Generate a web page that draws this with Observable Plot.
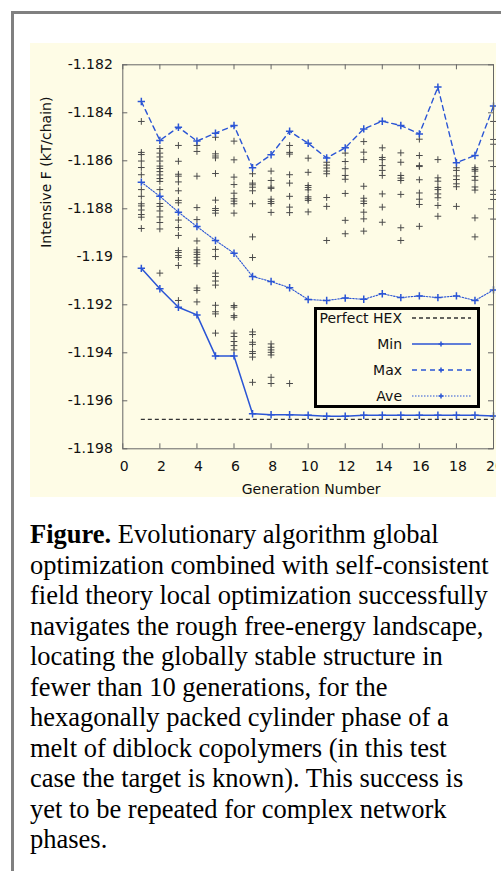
<!DOCTYPE html>
<html><head><meta charset="utf-8">
<script src="https://cdn.jsdelivr.net/npm/d3@7"></script>
<script src="https://cdn.jsdelivr.net/npm/@observablehq/plot@0.6"></script>
<style>
html,body{margin:0;padding:0;background:#fff;}
body{width:501px;height:871px;position:relative;overflow:hidden;}
#border{position:absolute;left:11px;top:11px;right:-10px;bottom:-10px;border-left:3px solid #808080;border-top:3px solid #808080;}
#panel{position:absolute;left:30px;top:43px;width:466px;height:454px;background:#fefce6;}
#caption{position:absolute;left:30px;top:519px;font-family:"Liberation Serif","Times New Roman",serif;font-size:26.5px;line-height:30.5px;color:#000;white-space:nowrap;}
</style>
</head><body>
<div id="border"></div>
<div id="panel"></div>
<div id="caption"></div>
<script>
// ---------- data ----------
const generations = [1,2,3,4,5,6,7,8,9,10,11,12,13,14,15,16,17,18,19,20];
const minF = [-1.19048,-1.19133,-1.19210,-1.19242,-1.19413,-1.19413,-1.19654,-1.19658,-1.19658,-1.19660,-1.19664,-1.19664,-1.19660,-1.19660,-1.19660,-1.19660,-1.19660,-1.19660,-1.19660,-1.19663];
const maxF = [-1.18353,-1.18515,-1.18460,-1.18518,-1.18485,-1.18453,-1.18629,-1.18575,-1.18477,-1.18527,-1.18588,-1.18546,-1.18467,-1.18435,-1.18453,-1.18488,-1.18293,-1.18608,-1.18578,-1.18372];
const aveF = [-1.18689,-1.18748,-1.18814,-1.18874,-1.18932,-1.18985,-1.19082,-1.19103,-1.19129,-1.19178,-1.19182,-1.19172,-1.19177,-1.19154,-1.19170,-1.19163,-1.19170,-1.19163,-1.19182,-1.19138];
const perfectHEX = -1.19677;
// population of each generation (index = generation - 1)
const population = [
[-1.18436,-1.18565,-1.18574,-1.18601,-1.18628,-1.18658,-1.18720,-1.18748,-1.18779,-1.18788,-1.18805,-1.18824,-1.18835,-1.18882],
[-1.18549,-1.18568,-1.18584,-1.18601,-1.18622,-1.18632,-1.18645,-1.18659,-1.18674,-1.18686,-1.18720,-1.18778,-1.18790,-1.18809,-1.18834,-1.18857,-1.18884,-1.19068],
[-1.18536,-1.18602,-1.18656,-1.18664,-1.18688,-1.18725,-1.18765,-1.18775,-1.18847,-1.18878,-1.18911,-1.18974,-1.18982,-1.18995,-1.19003,-1.19036,-1.19182],
[-1.18536,-1.18561,-1.18664,-1.18795,-1.18845,-1.18934,-1.18971,-1.18981,-1.18990,-1.19002,-1.19014,-1.19029,-1.19130,-1.19140,-1.19188],
[-1.18502,-1.18571,-1.18580,-1.18588,-1.18653,-1.18764,-1.18799,-1.18807,-1.18818,-1.18969,-1.18999,-1.19068,-1.19082,-1.19101,-1.19118,-1.19202,-1.19229,-1.19238,-1.19318],
[-1.18518,-1.18596,-1.18668,-1.18699,-1.18735,-1.18758,-1.18768,-1.18779,-1.18818,-1.19203,-1.19210,-1.19245,-1.19252,-1.19318,-1.19332,-1.19353,-1.19370,-1.19388],
[-1.18654,-1.18693,-1.18700,-1.18710,-1.18725,-1.18779,-1.18917,-1.19003,-1.19313,-1.19324,-1.19356,-1.19365,-1.19395,-1.19403,-1.19418,-1.19523],
[-1.18643,-1.18682,-1.18710,-1.18715,-1.18760,-1.18770,-1.18778,-1.18815,-1.19363,-1.19377,-1.19388,-1.19398,-1.19409,-1.19502,-1.19528],
[-1.18536,-1.18565,-1.18572,-1.18658,-1.18693,-1.18748,-1.18793,-1.18816,-1.19528],
[-1.18589,-1.18648,-1.18703,-1.18711,-1.18721,-1.18750,-1.18758,-1.18765,-1.18813],
[-1.18606,-1.18618,-1.18630,-1.18643,-1.18654,-1.18753,-1.18790,-1.18932],
[-1.18568,-1.18603,-1.18633,-1.18661,-1.18677,-1.18736,-1.18848,-1.18904],
[-1.18520,-1.18564,-1.18595,-1.18706,-1.18756,-1.18768,-1.18778,-1.18814,-1.18842,-1.18893],
[-1.18546,-1.18586,-1.18595,-1.18620,-1.18640,-1.18661,-1.18738,-1.18793,-1.18856],
[-1.18567,-1.18606,-1.18661,-1.18672,-1.18682,-1.18740,-1.18879,-1.18932],
[-1.18510,-1.18578,-1.18620,-1.18624,-1.18679,-1.18734,-1.18760,-1.18782,-1.18873],
[-1.18595,-1.18671,-1.18685,-1.18711,-1.18720,-1.18738,-1.18754,-1.18786,-1.18831],
[-1.18629,-1.18640,-1.18663,-1.18678,-1.18696,-1.18708,-1.18790],
[-1.18629,-1.18636,-1.18643,-1.18665,-1.18681,-1.18709,-1.18722,-1.18838,-1.18917],
[-1.18436,-1.18511,-1.18531,-1.18624,-1.18723,-1.18740,-1.18761,-1.18843]
];
const xTicks = [0,2,4,6,8,10,12,14,16,18,20];
const yTicks = [-1.198,-1.196,-1.194,-1.192,-1.19,-1.188,-1.186,-1.184,-1.182];
const xLabel = "Generation Number";
const yLabel = "Intensive F (kT/chain)";
const legendLabels = ["Perfect HEX","Min","Max","Ave"];
const captionTitle = "Figure.";
const captionLines = [
  " Evolutionary algorithm global",
  "optimization combined with self-consistent",
  "field theory local optimization successfully",
  "navigates the rough free-energy landscape,",
  "locating the globally stable structure in",
  "fewer than 10 generations, for the",
  "hexagonally packed cylinder phase of a",
  "melt of diblock copolymers (in this test",
  "case the target is known). This success is",
  "yet to be repeated for complex network",
  "phases."
];

// ---------- chart ----------
const BLUE = "#2b55d5", FRAME = "#666", BG = "#fefce6";
const W = 466, H = 454, mL = 92.3, mT = 21.3, mR = 3, mB = 48.7;
const innerW = W - mL - mR, innerH = H - mT - mB;
const xDomain = [0, 20], yDomain = [-1.198, -1.182];
const tyLen = (yDomain[1] - yDomain[0]) * 5 / innerH;
const txLen = (xDomain[1] - xDomain[0]) * 5 / innerW;

const seriesRows = generations.map((g, i) => ({g, min: minF[i], max: maxF[i], ave: aveF[i]}));
const popRows = population.flatMap((vals, i) => vals.map(v => ({g: generations[i], F: v})));
const fmt = d => String(d);

const chart = Plot.plot({
  width: W, height: H,
  marginLeft: mL, marginTop: mT, marginRight: mR, marginBottom: mB,
  style: {background: "transparent", fontFamily: "DejaVu Sans", fontSize: "14px", color: "#111", overflow: "hidden"},
  x: {domain: xDomain},
  y: {domain: yDomain},
  marks: [
    Plot.ruleY([perfectHEX], {x1: 1, x2: 20, stroke: "#333", strokeWidth: 1.3, strokeDasharray: "4,3"}),
    Plot.dot(popRows, {x: "g", y: "F", symbol: "plus", r: 2.3, stroke: "#4a4a4a", strokeWidth: 1}),
    Plot.line(seriesRows, {x: "g", y: "max", stroke: BLUE, strokeWidth: 1.4, strokeDasharray: "5,4"}),
    Plot.line(seriesRows, {x: "g", y: "ave", stroke: BLUE, strokeWidth: 1.1, strokeDasharray: "1.5,1.5"}),
    Plot.line(seriesRows, {x: "g", y: "min", stroke: BLUE, strokeWidth: 1.5}),
    Plot.dot(seriesRows, {x: "g", y: "max", symbol: "plus", r: 2.5, stroke: BLUE, strokeWidth: 1.5}),
    Plot.dot(seriesRows, {x: "g", y: "ave", symbol: "plus", r: 2.5, stroke: BLUE, strokeWidth: 1.5}),
    Plot.dot(seriesRows, {x: "g", y: "min", symbol: "plus", r: 2.5, stroke: BLUE, strokeWidth: 1.5}),
    Plot.ruleX(xTicks, {x: d => d, y1: yDomain[0], y2: yDomain[0] + tyLen, stroke: FRAME}),
    Plot.ruleX(xTicks, {x: d => d, y1: yDomain[1], y2: yDomain[1] - tyLen, stroke: FRAME}),
    Plot.ruleY(yTicks, {y: d => d, x1: xDomain[0], x2: xDomain[0] + txLen, stroke: FRAME}),
    Plot.ruleY(yTicks, {y: d => d, x1: xDomain[1], x2: xDomain[1] - txLen, stroke: FRAME}),
    Plot.frame({stroke: FRAME}),
    Plot.axisX(xTicks, {anchor: "bottom", tickSize: 0, tickPadding: 12, dx: 1.5, label: null, tickFormat: fmt}),
    Plot.axisY(yTicks, {anchor: "left", tickSize: 0, tickPadding: 10, label: null, tickFormat: fmt}),
    Plot.text([xLabel], {frameAnchor: "bottom", dy: 41, dx: 3, lineAnchor: "middle", fontSize: 14}),
    Plot.text([yLabel], {frameAnchor: "left", rotate: -90, dx: -76, dy: -9, lineAnchor: "middle", fontSize: 14})
  ]
});
document.getElementById("panel").appendChild(chart);

// ---------- legend (overlay box inside the plot) ----------
const lg = d3.select("#panel").append("svg")
  .attr("width", 166).attr("height", 101)
  .style("position", "absolute").style("left", "284px").style("top", "264px")
  .style("font-family", "DejaVu Sans").style("font-size", "14px");
lg.append("rect").attr("x", 1.5).attr("y", 1.5).attr("width", 163).attr("height", 98)
  .attr("fill", BG).attr("stroke", "#000").attr("stroke-width", 3);
const legendStyles = [
  {stroke: "#333", dash: "4,3", w: 1.3, marker: false},
  {stroke: BLUE, dash: null, w: 1.5, marker: true},
  {stroke: BLUE, dash: "5,4", w: 1.4, marker: true},
  {stroke: BLUE, dash: "1.5,1.5", w: 1.1, marker: true}
];
const rowY = [11, 37, 63, 89];
legendLabels.forEach((lab, i) => {
  const s = legendStyles[i], y = rowY[i];
  lg.append("text").attr("x", 88).attr("y", y).attr("dy", "0.35em")
    .attr("text-anchor", "end").attr("fill", "#111").text(lab);
  lg.append("line").attr("x1", 98).attr("x2", 157).attr("y1", y).attr("y2", y)
    .attr("stroke", s.stroke).attr("stroke-width", s.w).attr("stroke-dasharray", s.dash);
  if (s.marker) {
    lg.append("path").attr("d", `M124.5,${y}h5M127,${y-2.5}v5`).attr("stroke", s.stroke).attr("stroke-width", 1.5);
  }
});

// ---------- caption ----------
const cap = document.getElementById("caption");
captionLines.forEach((line, i) => {
  const div = document.createElement("div");
  if (i === 0) {
    const b = document.createElement("b");
    b.textContent = captionTitle;
    div.appendChild(b);
  }
  div.appendChild(document.createTextNode(line));
  cap.appendChild(div);
});
</script>
</body></html>
